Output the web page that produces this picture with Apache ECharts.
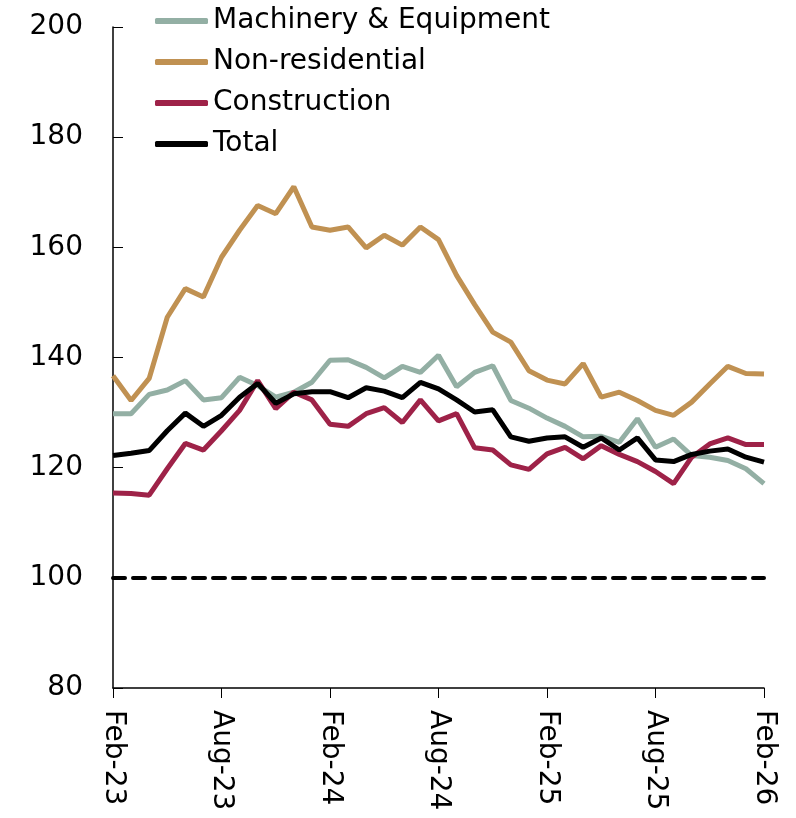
<!DOCTYPE html>
<html>
<head>
<meta charset="utf-8">
<script src="https://cdn.jsdelivr.net/npm/echarts@6/dist/echarts.min.js"></script>
<style>
  html, body { margin: 0; padding: 0; background: #fff; }
  #chart { width: 796px; height: 818px; }
</style>
</head>
<body>
<div id="chart"></div>
<script>
var months = ['Feb-23','Mar-23','Apr-23','May-23','Jun-23','Jul-23','Aug-23','Sep-23','Oct-23','Nov-23','Dec-23','Jan-24',
              'Feb-24','Mar-24','Apr-24','May-24','Jun-24','Jul-24','Aug-24','Sep-24','Oct-24','Nov-24','Dec-24','Jan-25',
              'Feb-25','Mar-25','Apr-25','May-25','Jun-25','Jul-25','Aug-25','Sep-25','Oct-25','Nov-25','Dec-25','Jan-26','Feb-26'];

var machinery = [129.8, 129.8, 133.3, 134.1, 135.8, 132.3, 132.7, 136.4, 134.9, 132.8, 133.7, 135.5,
                 139.5, 139.6, 138.2, 136.3, 138.4, 137.3, 140.4, 134.7, 137.3, 138.5, 132.2, 130.8,
                 129.0, 127.5, 125.6, 125.7, 124.6, 128.9, 123.7, 125.2, 122.2, 121.9, 121.3, 119.8, 117.1];

var nonResidential = [136.7, 132.2, 136.2, 147.3, 152.5, 151.0, 158.2, 163.1, 167.6, 166.1, 171.0, 163.7,
                      163.1, 163.7, 159.9, 162.2, 160.4, 163.7, 161.4, 154.9, 149.6, 144.6, 142.8, 137.6,
                      135.9, 135.2, 138.9, 132.8, 133.7, 132.2, 130.4, 129.5, 131.9, 135.2, 138.4, 137.1, 137.0];

var construction = [115.4, 115.3, 115.0, 119.8, 124.4, 123.2, 126.7, 130.4, 135.8, 130.7, 133.7, 132.3,
                    127.9, 127.5, 129.8, 130.9, 128.2, 132.3, 128.5, 129.8, 123.6, 123.2, 120.5, 119.7,
                    122.5, 123.7, 121.6, 124.0, 122.4, 121.1, 119.3, 117.1, 121.9, 124.3, 125.4, 124.2, 124.2];

var total = [122.2, 122.6, 123.1, 126.7, 129.9, 127.5, 129.5, 132.8, 135.3, 131.7, 133.4, 133.8,
             133.8, 132.7, 134.5, 133.9, 132.7, 135.5, 134.3, 132.3, 130.1, 130.5, 125.6, 124.8,
             125.4, 125.6, 123.7, 125.4, 123.2, 125.4, 121.4, 121.1, 122.4, 123.0, 123.4, 121.9, 121.0];

var yTicks = { min: 80, max: 200, step: 20 };

var font = 'DejaVu Sans';

var myChart = echarts.init(document.getElementById('chart'));

function lineSeries(name, data, color) {
    return {
        name: name,
        type: 'line',
        data: data,
        symbol: 'none',
        smooth: false,
        lineStyle: { color: color, width: 5 },
        itemStyle: { color: color }
    };
}

var series = [
    lineSeries('Machinery & Equipment', machinery, '#93afa4'),
    lineSeries('Non-residential', nonResidential, '#c09152'),
    lineSeries('Construction', construction, '#9e2248'),
    lineSeries('Total', total, '#000000')
];

// dashed base line at 100
series[3].markLine = {
    silent: true,
    symbol: 'none',
    label: { show: false },
    lineStyle: { color: '#000', width: 4, type: [12, 8], cap: 'round' },
    data: [{ yAxis: 100 }]
};

var option = {
    animation: false,
    backgroundColor: '#fff',
    grid: { left: 113, right: 32, top: 27, bottom: 130, containLabel: false },
    legend: {
        orient: 'vertical',
        left: 150,
        top: -1,
        icon: 'roundRect',
        itemWidth: 53,
        itemHeight: 6,
        itemGap: 7,
        textStyle: { fontFamily: font, fontSize: 28, color: '#000', lineHeight: 34 },
        data: ['Machinery & Equipment', 'Non-residential', 'Construction', 'Total']
    },
    xAxis: {
        type: 'category',
        data: months,
        boundaryGap: false,
        axisLine: { lineStyle: { color: '#000', width: 1.5 } },
        axisTick: { interval: 5, length: 10, lineStyle: { color: '#000' } },
        axisLabel: { interval: 5, rotate: -90, margin: 22, fontFamily: font, fontSize: 28, color: '#000' },
        splitLine: { show: false }
    },
    yAxis: {
        type: 'value',
        min: yTicks.min,
        max: yTicks.max,
        interval: yTicks.step,
        axisLine: { show: true, lineStyle: { color: '#000', width: 1.5 } },
        axisTick: { show: true, inside: true, length: 10, lineStyle: { color: '#000' } },
        axisLabel: { margin: 30, fontFamily: font, fontSize: 28, color: '#000' },
        splitLine: { show: false }
    },
    series: series
};

option && myChart.setOption(option);
</script>
</body>
</html>
